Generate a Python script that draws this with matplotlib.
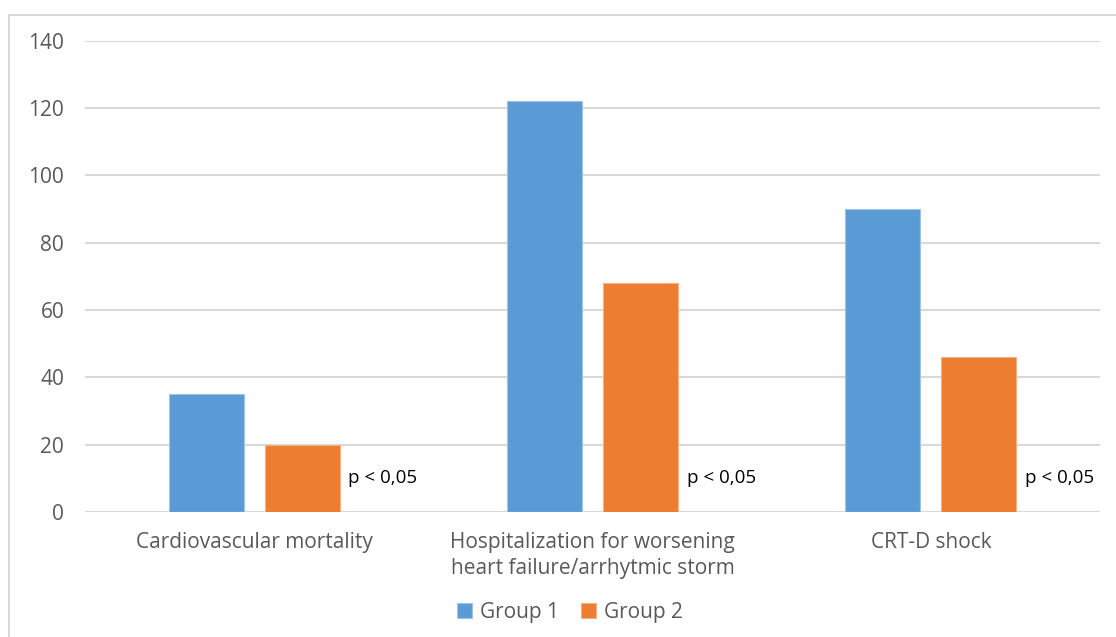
import numpy as np
import matplotlib.pyplot as plt
from matplotlib.patches import Rectangle

categories = ["Cardiovascular mortality",
              "Hospitalization for worsening\nheart failure/arrhytmic storm",
              "CRT-D shock"]
group1 = [35, 122, 90]
group2 = [20, 68, 46]
p_labels = ["p < 0,05", "p < 0,05", "p < 0,05"]
y_ticks = [0, 20, 40, 60, 80, 100, 120, 140]

BLUE = "#5B9BD5"
ORANGE = "#ED7D31"
GRID = "#D9D9D9"
TEXT = "#595959"

plt.rcParams["font.family"] = ["Open Sans", "DejaVu Sans"]

fig = plt.figure(figsize=(11.16, 6.37), dpi=100)
ax = fig.add_axes([0.0762, 0.196, 0.9095, 0.7404])

x = np.arange(len(categories))
width = 0.222
offset = 0.142

ax.bar(x - offset, group1, width, color=BLUE, edgecolor="#9DC3E6",
       linewidth=0.8, label="Group 1", zorder=3)
ax.bar(x + offset, group2, width, color=ORANGE, edgecolor="#F4B183",
       linewidth=0.8, label="Group 2", zorder=3)

# significance notes to the right of each pair
for xi, lab in zip(x, p_labels):
    ax.text(xi + offset + width / 2 + 0.025, 10, lab, ha="left", va="center",
            fontsize=13.5, color="black")

ax.set_xlim(-0.5, len(categories) - 0.5)
ax.set_ylim(0, 140)
ax.set_yticks(y_ticks)
ax.yaxis.grid(True, color=GRID, linewidth=1.5, zorder=0)
ax.set_axisbelow(True)
for s in ["top", "right", "left", "bottom"]:
    ax.spines[s].set_visible(False)
ax.tick_params(axis="y", length=0, pad=15, labelsize=15, labelcolor=TEXT)
ax.tick_params(axis="x", length=0, pad=14, labelsize=15, labelcolor=TEXT)
ax.set_xticks(x)
ax.set_xticklabels(categories, linespacing=1.35)

leg = fig.legend(loc="center", bbox_to_anchor=(0.511, 0.039), ncol=2,
                 frameon=False, fontsize=15, handlelength=0.7,
                 handleheight=0.7, handletextpad=0.4, columnspacing=1.05)
for t in leg.get_texts():
    t.set_color(TEXT)

# chart area border
fig.patches.append(Rectangle((9 / 1116, -0.01), 1.2, 1 - 15 / 637 + 0.01,
                             transform=fig.transFigure, fill=False,
                             edgecolor=GRID, linewidth=1.5))

fig.savefig("out.png", dpi=100)
